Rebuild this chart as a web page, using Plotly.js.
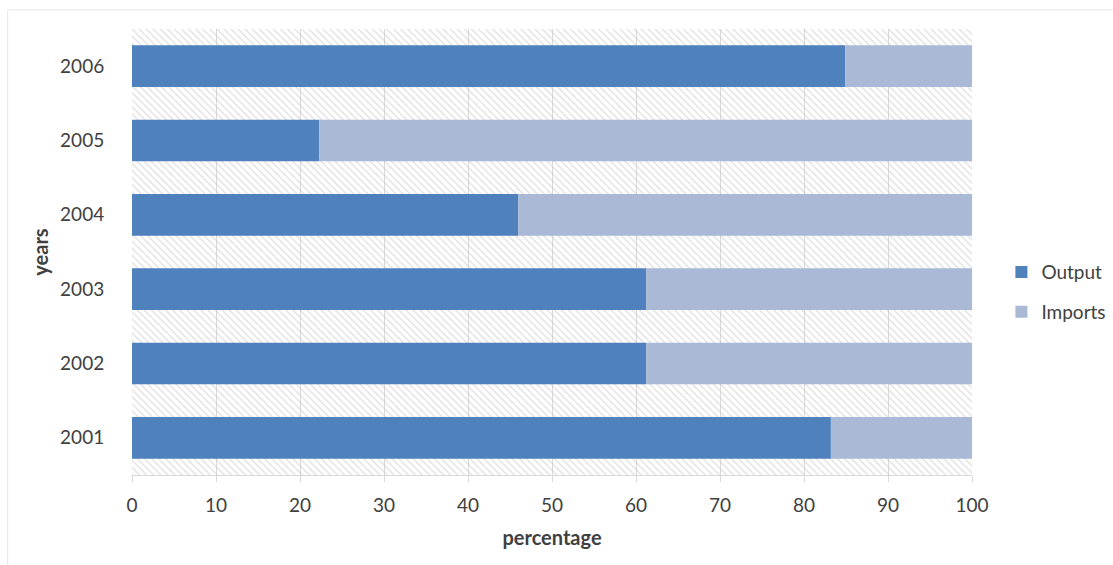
<!DOCTYPE html>
<html><head><meta charset="utf-8">
<script src="https://cdn.plot.ly/plotly-3.0.1.min.js"></script>
<style>html,body{margin:0;padding:0;background:#fff}#c{width:1113px;height:565px}</style>
</head><body><div id="c"></div>
<script>
const years = ['2001','2002','2003','2004','2005','2006'];
const output = [83.2, 61.2, 61.2, 46.0, 22.3, 84.9];
const imports = [16.8, 38.8, 38.8, 54.0, 77.7, 15.1];
const fullScale = [100, 100, 100, 100, 100, 100];
const xTicks = [0,10,20,30,40,50,60,70,80,90,100];

const font = 'Lato, "Open Sans", sans-serif';
const txt = '#404040';

const traces = [
  {type:'bar', orientation:'h', y:years, x:fullScale, width:1, showlegend:false, hoverinfo:'skip',
   marker:{color:'rgba(0,0,0,0)', line:{width:0}, pattern:{shape:'\\', fgcolor:'#c8c8c8', size:5, solidity:0.3, fillmode:'overlay'}}},
  {type:'bar', orientation:'h', y:years, x:output, name:'Output', width:0.56, legendgroup:'a',
   marker:{color:'#4f81bd', line:{width:0}}},
  {type:'bar', orientation:'h', y:years, x:imports, base:output, name:'Imports', width:0.56, legendgroup:'b',
   marker:{color:'#a9b9d6', line:{width:0}}}
];

const layout = {
  width:1113, height:565,
  margin:{l:132, r:141, t:29, b:90, autoexpand:false},
  paper_bgcolor:'#fff', plot_bgcolor:'#fff',
  barmode:'overlay',
  font:{family:font, size:19, color:txt},
  xaxis:{range:[0,100], tickvals:xTicks, ticktext:xTicks.map(String), showgrid:true, gridcolor:'#d9d9d9', gridwidth:1,
    zeroline:false, showline:true, linecolor:'#d9d9d9', ticks:'outside', ticklen:6, tickcolor:'#d9d9d9',
    ticklabelstandoff:7,
    tickfont:{family:font, size:19, color:txt},
    title:{text:'percentage', font:{family:font, size:20, color:txt, weight:'bold'}, standoff:16}},
  yaxis:{type:'category', categoryorder:'array', categoryarray:years, range:[-0.5,5.5], showgrid:false, zeroline:false,
    showline:false, ticks:'outside', ticklen:23, tickcolor:'rgba(0,0,0,0)',
    tickfont:{family:font, size:19, color:txt},
    title:{text:'years', font:{family:font, size:20, color:txt, weight:'bold'}, standoff:6}},
  legend:{x:1.035, xanchor:'left', y:0.41, yanchor:'middle', font:{family:font, size:19, color:txt},
    traceorder:'grouped', tracegroupgap:12, itemwidth:30, bgcolor:'rgba(0,0,0,0)'},
  shapes:[
    {type:'line', xref:'paper', yref:'paper', x0:-0.148, x1:1.2, y0:1.043, y1:1.043, line:{color:'#e6e6e6', width:1}, layer:'below'},
    {type:'line', xref:'paper', yref:'paper', x0:-0.148, x1:-0.148, y0:1.043, y1:-0.25, line:{color:'#e6e6e6', width:1}, layer:'below'}
  ]
};
Plotly.newPlot('c', traces, layout, {displayModeBar:false, staticPlot:true});
</script></body></html>
